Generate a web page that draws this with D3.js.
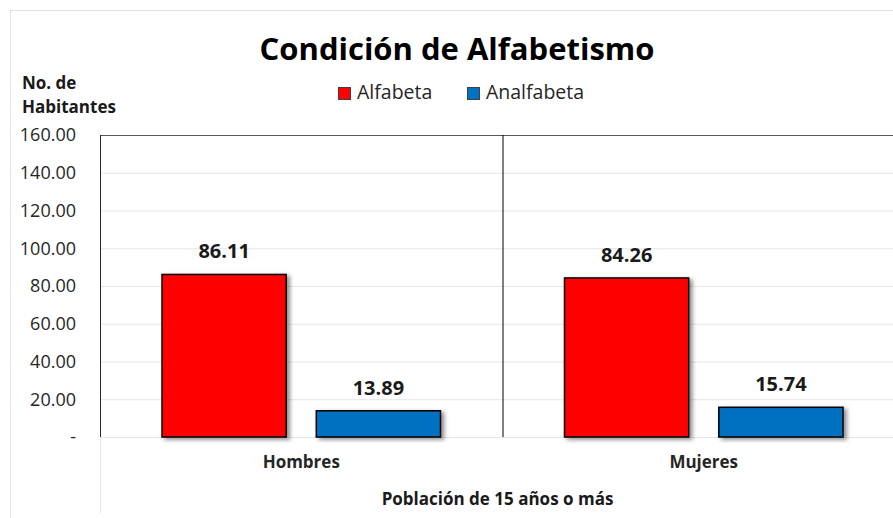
<!DOCTYPE html>
<html>
<head>
<meta charset="utf-8">
<script src="https://cdn.jsdelivr.net/npm/d3@7"></script>
<style>
  body { margin: 0; background: #fff; }
  svg { display: block; font-family: "Open Sans", sans-serif; }
</style>
</head>
<body>
<svg id="chart" width="893" height="518"></svg>
<script>
// datos del grafico
const categorias = ['Hombres', 'Mujeres'];
const series = ['Alfabeta', 'Analfabeta'];
const alfabeta = [86.11, 84.26];
const analfabeta = [13.89, 15.74];
const yTicks = [0, 20, 40, 60, 80, 100, 120, 140, 160];
const colores = ['#ff0000', '#0070c0'];

const svg = d3.select('#chart');
const margin = { top: 135, left: 100 };
const width = 805;
const height = 302;

// borde exterior del grafico
svg.append('rect')
  .attr('x', 10.5).attr('y', 10.5)
  .attr('width', 900).attr('height', 520)
  .attr('fill', '#fff')
  .attr('stroke', '#dde3ea');

const defs = svg.append('defs');
defs.append('filter')
  .attr('id', 'sombra')
  .attr('x', '-10%').attr('y', '-10%')
  .attr('width', '130%').attr('height', '130%')
  .append('feDropShadow')
  .attr('dx', 3).attr('dy', 2)
  .attr('stdDeviation', 2)
  .attr('flood-color', '#000')
  .attr('flood-opacity', 0.45);

const g = svg.append('g').attr('transform', `translate(${margin.left},${margin.top})`);

const x0 = d3.scaleBand().domain(categorias).range([0, width]);
const x1 = d3.scaleBand().domain(series).range([62, x0.bandwidth() - 62]).paddingInner(0.195);
const y = d3.scaleLinear().domain([0, 160]).range([height, 0]);

// lineas de cuadricula
g.append('g')
  .call(d3.axisLeft(y).tickValues(yTicks).tickSize(-width).tickFormat(''))
  .call(a => a.select('.domain').remove())
  .call(a => a.selectAll('line').attr('stroke', '#e3e5ec'));

// etiquetas eje y
g.append('g')
  .call(d3.axisLeft(y).tickValues(yTicks).tickSize(0).tickPadding(24)
    .tickFormat(d => (d === 0 ? '-' : d3.format('.2f')(d))))
  .call(a => a.select('.domain').remove())
  .call(a => a.selectAll('text')
    .attr('font-family', '"Open Sans", sans-serif')
    .attr('font-size', 18)
    .attr('fill', '#262626'));

// linea gris bajo el eje
g.append('line')
  .attr('x1', 0.5).attr('x2', 0.5)
  .attr('y1', height).attr('y2', height + 76)
  .attr('stroke', '#e3e5ec');

// borde superior, eje izquierdo y separador
g.append('line')
  .attr('x1', 0).attr('x2', width)
  .attr('y1', 0.5).attr('y2', 0.5)
  .attr('stroke', '#595959');
g.append('line')
  .attr('x1', 0.5).attr('x2', 0.5)
  .attr('y1', 0).attr('y2', height)
  .attr('stroke', '#262626');
g.append('line')
  .attr('x1', x0('Mujeres') + 0.5).attr('x2', x0('Mujeres') + 0.5)
  .attr('y1', 0).attr('y2', height)
  .attr('stroke', '#000');

const datos = categorias.map((c, i) => ({ cat: c, valores: [alfabeta[i], analfabeta[i]] }));

const grupo = g.selectAll('.grupo')
  .data(datos)
  .enter().append('g')
  .attr('class', 'grupo')
  .attr('transform', d => `translate(${x0(d.cat)},0)`);

grupo.selectAll('rect')
  .data(d => d.valores.map((v, i) => ({ serie: series[i], v, i })))
  .enter().append('rect')
  .attr('x', d => x1(d.serie))
  .attr('y', d => y(d.v))
  .attr('width', x1.bandwidth())
  .attr('height', d => height - y(d.v))
  .attr('fill', d => colores[d.i])
  .attr('stroke', '#000')
  .attr('stroke-width', 1.5)
  .attr('filter', 'url(#sombra)');

grupo.selectAll('.valor')
  .data(d => d.valores.map((v, i) => ({ serie: series[i], v })))
  .enter().append('text')
  .attr('class', 'valor')
  .attr('x', d => x1(d.serie) + x1.bandwidth() / 2)
  .attr('y', d => y(d.v) - 16)
  .attr('text-anchor', 'middle')
  .attr('font-size', 20)
  .attr('font-weight', 'bold')
  .attr('fill', '#1a1a1a')
  .text(d => d3.format('.2f')(d.v));

// etiquetas de categoria
g.selectAll('.cat')
  .data(categorias)
  .enter().append('text')
  .attr('class', 'cat')
  .attr('x', d => x0(d) + x0.bandwidth() / 2)
  .attr('y', height + 31)
  .attr('text-anchor', 'middle')
  .attr('font-size', 17)
  .attr('font-weight', 'bold')
  .attr('fill', '#262626')
  .text(d => d);

// titulo eje x
g.append('text')
  .attr('x', width / 2 - 5)
  .attr('y', height + 68)
  .attr('text-anchor', 'middle')
  .attr('font-size', 17)
  .attr('font-weight', 'bold')
  .attr('fill', '#1a1a1a')
  .text('Población de 15 años o más');

// titulo eje y
const yTitulo = svg.append('text')
  .attr('font-size', 17)
  .attr('font-weight', 'bold')
  .attr('fill', '#1a1a1a');
yTitulo.append('tspan').attr('x', 22).attr('y', 89).text('No. de');
yTitulo.append('tspan').attr('x', 22).attr('y', 113).text('Habitantes');

// titulo
svg.append('text')
  .attr('x', 457)
  .attr('y', 60)
  .attr('text-anchor', 'middle')
  .attr('font-size', 31)
  .attr('font-weight', 'bold')
  .attr('fill', '#000')
  .text('Condición de Alfabetismo');

// leyenda
const leyendaX = [338, 467];
const leyenda = svg.selectAll('.leyenda')
  .data(series)
  .enter().append('g')
  .attr('class', 'leyenda')
  .attr('transform', (d, i) => `translate(${leyendaX[i]},87)`);
leyenda.append('rect')
  .attr('x', 0.5).attr('y', 0.5)
  .attr('width', 12).attr('height', 12)
  .attr('fill', (d, i) => colores[i])
  .attr('stroke', '#404040');
leyenda.append('text')
  .attr('x', 19)
  .attr('y', 12)
  .attr('font-size', 19.5)
  .attr('fill', '#262626')
  .text(d => d);
</script>
</body>
</html>
